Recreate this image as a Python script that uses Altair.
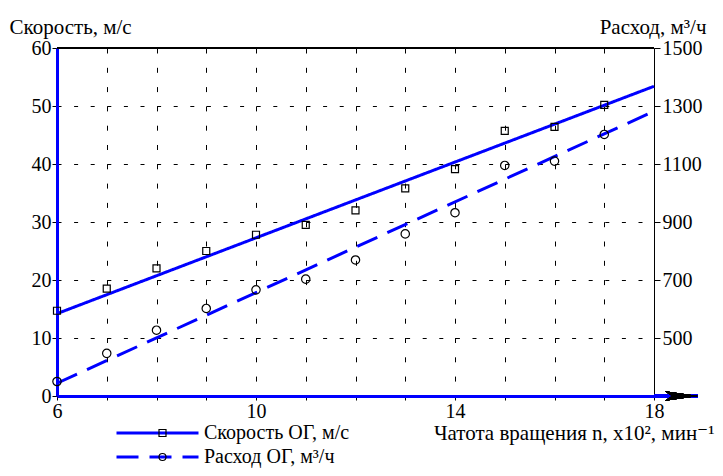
import altair as alt
import pandas as pd

# ---- data ----
n_rpm = [6, 7, 8, 9, 10, 11, 12, 13, 14, 15, 16, 17]
speed = [14.7, 18.5, 22.0, 25.0, 27.8, 29.5, 32.0, 35.8, 39.1, 45.7, 46.4, 50.2]
flow = [350, 447, 527, 602, 666, 703, 769, 859, 932, 1095, 1110, 1202]
fit_n = [6, 18]
speed_fit = [14.2, 53.4]
flow_fit = [344, 1282]
series = ["Скорость ОГ, м/с", "Расход ОГ, м³/ч"]
marker_keys = ["sq", "ci"]
x_ticks = list(range(6, 19))
x_labels = [6, 10, 14, 18]
left_ticks = [0, 10, 20, 30, 40, 50, 60]
right_ticks = [500, 700, 900, 1100, 1300, 1500]
axis_end = 18.88

FONT = "Liberation Serif, 'Times New Roman', Times, 'DejaVu Serif', serif"
BLUE = "#0000ff"
LBL = 20
TTL = 21

pts = pd.DataFrame(
    {"n": n_rpm * 2, "value": speed + flow,
     "series": [series[0]] * len(n_rpm) + [series[1]] * len(n_rpm),
     "marker": [marker_keys[0]] * len(n_rpm) + [marker_keys[1]] * len(n_rpm)}
)
fit = pd.DataFrame(
    {"n": fit_n * 2, "value": speed_fit + flow_fit,
     "series": [series[0]] * 2 + [series[1]] * 2}
)

X = alt.X("n:Q", scale=alt.Scale(domain=[6, 18], nice=False, zero=False),
          axis=alt.Axis(values=x_ticks, title="Чатота вращения n, x10², мин⁻¹",
                        labelExpr="indexof([6,10,14,18], datum.value) >= 0 ? datum.label : ''",
                        grid=True, gridColor="black", gridDash=[5, 14.3], gridWidth=1,
                        gridOpacity=1,
                        domainColor=BLUE, domainWidth=3, tickColor="black", tickSize=4,
                        labelFont=FONT, labelFontSize=LBL, labelColor="black", labelPadding=1,
                        labelFlush=False,
                        titleFont=FONT, titleFontSize=TTL, titleFontWeight="normal",
                        titleColor="black", titleAnchor="end", titleAlign="right",
                        titleX=657, titleY=43, titleBaseline="alphabetic"))

dash_scale = alt.Scale(domain=series, range=[[1, 0], [22, 11]])
dash_legend = alt.Legend(orient="none", legendX=58, legendY=374, title=None,
                         symbolType="stroke", symbolSize=6724, symbolStrokeColor=BLUE,
                         symbolStrokeWidth=3, clipHeight=22, labelOffset=4,
                         labelFont=FONT, labelFontSize=LBL, labelColor="black",
                         labelLimit=400)
shape_scale = alt.Scale(domain=marker_keys, range=["square", "circle"])
shape_legend = alt.Legend(orient="none", legendX=95.5, legendY=374, title=None,
                          symbolSize=49, symbolStrokeColor="black", symbolFillColor="white",
                          symbolStrokeWidth=1.2, clipHeight=22, labelOffset=6,
                          labelFont=FONT, labelFontSize=LBL, labelOpacity=0, zindex=2)

Y_left = alt.Y("value:Q", scale=alt.Scale(domain=[0, 60], nice=False),
               axis=alt.Axis(orient="left", values=left_ticks, title="Скорость, м/с",
                             grid=True, gridColor="black", gridDash=[4, 12.6], gridWidth=1,
                             gridOpacity=1,
                             domainColor=BLUE, domainWidth=3, tickColor="black", tickSize=5,
                             labelFont=FONT, labelFontSize=LBL, labelColor="black",
                             labelPadding=1, labelFlush=False, format="d",
                             titleFont=FONT, titleFontSize=TTL, titleFontWeight="normal",
                             titleColor="black", titleAngle=0, titleAlign="left",
                             titleX=-48, titleY=-15, titleBaseline="alphabetic"))
Y_right = alt.Y("value:Q", scale=alt.Scale(domain=[300, 1500], nice=False, zero=False),
                axis=alt.Axis(orient="right", values=right_ticks, title="Расход, м³/ч",
                              grid=False, domainColor="black", domainWidth=1,
                              tickColor="black", tickSize=6, format="d",
                              labelFont=FONT, labelFontSize=LBL, labelColor="black",
                              labelPadding=2, labelFlush=False,
                              titleFont=FONT, titleFontSize=TTL, titleFontWeight="normal",
                              titleColor="black", titleAngle=0, titleAlign="right",
                              titleX=52, titleY=-15, titleBaseline="alphabetic"))

speed_line = alt.Chart(fit).transform_filter(alt.datum.series == series[0]).mark_line(
    color=BLUE, strokeWidth=3).encode(
    x=X, y=Y_left,
    strokeDash=alt.StrokeDash("series:N", scale=dash_scale, legend=dash_legend))
speed_pts = alt.Chart(pts).transform_filter(alt.datum.series == series[0]).mark_point(
    filled=False, color="black", strokeWidth=1.2, size=49, opacity=1).encode(
    x="n:Q", y="value:Q",
    shape=alt.Shape("marker:N", scale=shape_scale, legend=shape_legend))
top_rule = alt.Chart(pts).mark_rule(color="black", strokeWidth=1).encode(
    x=alt.datum(fit_n[0]), x2=alt.datum(fit_n[1]), y=alt.datum(left_ticks[-1]))
ext_rule = alt.Chart(pts).mark_rule(color=BLUE, strokeWidth=3).encode(
    x=alt.datum(fit_n[1]), x2=alt.datum(axis_end), y=alt.datum(left_ticks[0]))
arrow = alt.Chart(pts).mark_point(
    shape="M-1,-0.28L1,0L-1,0.28L-0.55,0Z", filled=True, color="black",
    size=1100, opacity=1).encode(x=alt.datum(axis_end - 0.33), y=alt.datum(left_ticks[0]))

left = alt.layer(speed_line, top_rule, ext_rule, arrow, speed_pts)

flow_line = alt.Chart(fit).transform_filter(alt.datum.series == series[1]).mark_line(
    color=BLUE, strokeWidth=3).encode(
    x="n:Q", y=Y_right,
    strokeDash=alt.StrokeDash("series:N", scale=dash_scale, legend=dash_legend))
flow_pts = alt.Chart(pts).transform_filter(alt.datum.series == series[1]).mark_point(
    filled=False, color="black", strokeWidth=1.2, size=70, opacity=1).encode(
    x="n:Q", y="value:Q",
    shape=alt.Shape("marker:N", scale=shape_scale, legend=shape_legend))

right = alt.layer(flow_line, flow_pts)

chart = alt.layer(left, right).resolve_scale(y="independent").properties(
    width=597, height=348,
    autosize=alt.AutoSizeParams(type="none"),
    padding={"left": 49, "top": 40, "right": 61, "bottom": 72},
    background="white",
).configure_view(stroke=None)

chart.save("out.html", embed_options={"renderer": "svg", "actions": False})
